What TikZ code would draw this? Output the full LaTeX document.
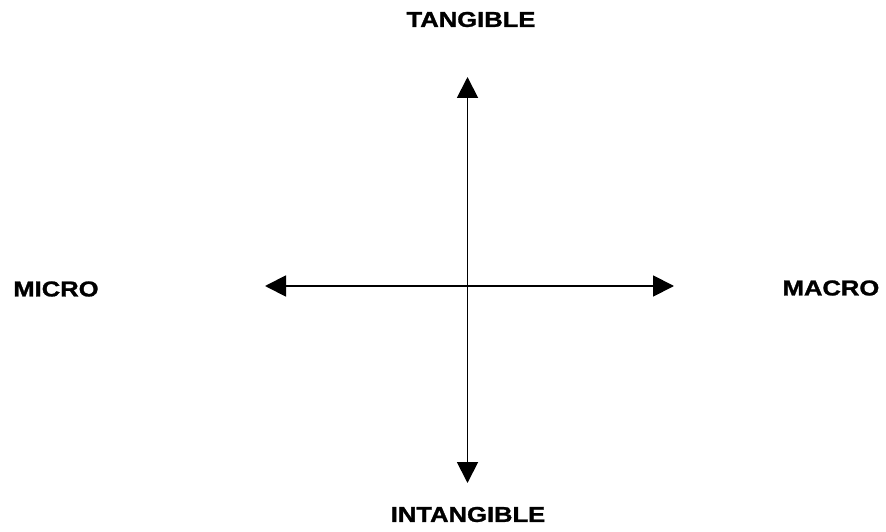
\documentclass[tikz,border=0pt]{standalone}
\usepackage{fontspec}
\setmainfont{Liberation Sans}[BoldFeatures={FakeBold=1.2}]
\usetikzlibrary{arrows.meta}
\begin{document}
\begin{tikzpicture}[x=1pt,y=1pt,
  lbl/.style={inner sep=0pt,font=\fontsize{21.5}{25}\selectfont\bfseries},
  axis/.style={line width=1.9pt,{Triangle[length=21pt,width=21pt]}-{Triangle[length=21pt,width=21pt]}}]
\useasboundingbox (0,0) rectangle (886,-532);
\coordinate (L) at (265,-286);
\coordinate (R) at (674,-286);
\coordinate (T) at (467.5,-77);
\coordinate (B) at (467.5,-483);
\draw[axis] (L) -- (R);
\draw[axis] (B) -- (T);
\node[lbl] (tan) at (471,-19.5) {\scalebox{1.19}[1]{TANGIBLE}};
\node[lbl] (intan) at (468,-514.5) {\scalebox{1.19}[1]{INTANGIBLE}};
\node[lbl] (micro) at (56,-289) {\scalebox{1.19}[1]{MICRO}};
\node[lbl] (macro) at (831,-288) {\scalebox{1.19}[1]{MACRO}};
\end{tikzpicture}
\end{document}
